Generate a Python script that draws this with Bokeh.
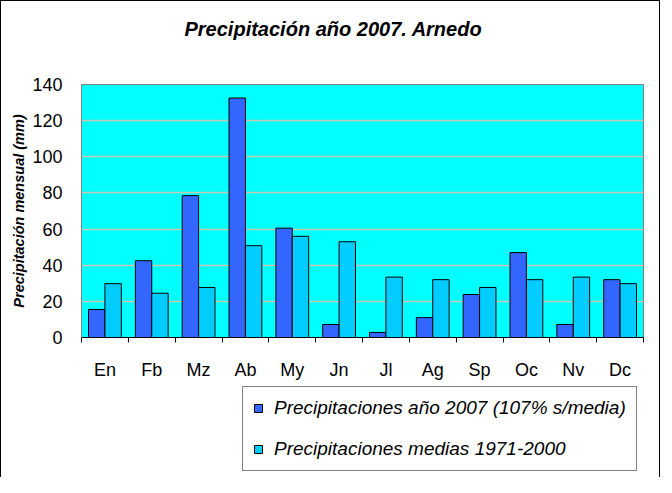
from bokeh.plotting import figure
from bokeh.layouts import column
from bokeh.models import (ColumnDataSource, FixedTicker, Legend, LegendItem,
                          Range1d, Label)
from bokeh.embed import file_html
from bokeh.resources import INLINE

months = ["En", "Fb", "Mz", "Ab", "My", "Jn", "Jl", "Ag", "Sp", "Oc", "Nv", "Dc"]
prec_2007 = [15.5, 42.5, 78.5, 132.5, 60.5, 7.2, 2.8, 11.0, 23.8, 47.0, 7.2, 32.0]
prec_media = [29.8, 24.5, 27.7, 50.8, 56.0, 53.0, 33.4, 32.0, 27.7, 32.0, 33.4, 29.8]
y_ticks = [0, 20, 40, 60, 80, 100, 120, 140]
series_labels = ["Precipitaciones año 2007 (107% s/media)",
                 "Precipitaciones medias 1971-2000"]
series_colors = ["#3366FF", "#00CCFF"]
title_text = "Precipitación año 2007. Arnedo"

FONT = "Liberation Sans"
W = 658


def blank(height):
    f = figure(width=W, height=height, output_backend="svg", toolbar_location=None,
               x_range=Range1d(0, 1), y_range=Range1d(0, 1),
               x_axis_type=None, y_axis_type=None, min_border=0)
    f.grid.visible = False
    f.outline_line_color = None
    f.border_fill_color = "white"
    f.background_fill_color = "white"
    return f


# title panel
p0 = blank(54)
p0.add_layout(Label(x=0, y=0.5, x_offset=103, text=title_text, text_align="left",
                    text_baseline="middle", text_font=FONT, text_font_size="20px",
                    text_font_style="bold italic", text_color="black"))

# chart
bar_w = 0.35
centers = [i + 0.5 for i in range(len(months))]
src = ColumnDataSource(dict(
    x1=[c - bar_w / 2 for c in centers],
    x2=[c + bar_w / 2 for c in centers],
    a=prec_2007, m=prec_media))

p = figure(width=W, height=330, output_backend="svg", toolbar_location=None,
           x_range=Range1d(0, len(months)), y_range=Range1d(0, 140),
           min_border_left=80, min_border_right=16, min_border_top=29,
           min_border_bottom=48)
p.background_fill_color = "#00FFFF"
p.border_fill_color = "white"
p.outline_line_color = "#808080"

p.vbar(x="x1", top="a", width=bar_w, source=src, fill_color=series_colors[0],
       line_color="black", line_width=1)
p.vbar(x="x2", top="m", width=bar_w, source=src, fill_color=series_colors[1],
       line_color="black", line_width=1)

xa = p.xaxis[0]
xa.ticker = FixedTicker(ticks=centers, minor_ticks=list(range(len(months) + 1)))
xa.major_label_overrides = {c: m for c, m in zip(centers, months)}
xa.major_tick_line_color = None
xa.minor_tick_line_color = "black"
xa.minor_tick_out = 5
xa.minor_tick_in = 0
xa.axis_line_color = "black"
xa.major_label_text_font = FONT
xa.major_label_text_font_size = "18px"
xa.major_label_text_color = "black"
xa.major_label_standoff = 16

ya = p.yaxis[0]
ya.ticker = FixedTicker(ticks=y_ticks)
ya.major_tick_line_color = None
ya.minor_tick_line_color = None
ya.axis_line_color = "#808080"
ya.major_label_text_font = FONT
ya.major_label_text_font_size = "18px"
ya.major_label_text_color = "black"
ya.major_label_standoff = 13
ya.axis_label = "Precipitación mensual (mm)"
ya.axis_label_text_font = FONT
ya.axis_label_text_font_size = "14.5px"
ya.axis_label_text_font_style = "bold italic"
ya.axis_label_text_color = "black"
ya.axis_label_standoff = 2

p.xgrid.grid_line_color = None
p.ygrid.grid_line_color = "#C8C8B4"
p.ygrid.grid_line_width = 1.5

# legend panel
p2 = blank(92)
hidden = ColumnDataSource(dict(x=[-5], top=[0]))
dummies = [p2.vbar(x="x", top="top", width=0.1, source=hidden, fill_color=c,
                   line_color="black", line_width=1) for c in series_colors]
legend = Legend(items=[LegendItem(label=l, renderers=[r])
                       for l, r in zip(series_labels, dummies)],
                location=(161, 6), orientation="vertical")
legend.label_text_font = FONT
legend.label_text_font_size = "19px"
legend.label_text_font_style = "italic"
legend.label_text_color = "black"
legend.glyph_width = 10
legend.glyph_height = 10
legend.label_height = 20
legend.label_standoff = 11
legend.spacing = 19
legend.padding = 10
legend.margin = 0
legend.border_line_color = "black"
legend.border_line_width = 1
legend.background_fill_alpha = 1
legend.background_fill_color = "white"
p2.add_layout(legend)

layout = column(p0, p, p2, spacing=0)
layout.styles = {"border-top": "1px solid black", "border-left": "1px solid black",
                 "border-right": "1px solid black"}

open("out.html", "w").write(file_html(layout, INLINE))
